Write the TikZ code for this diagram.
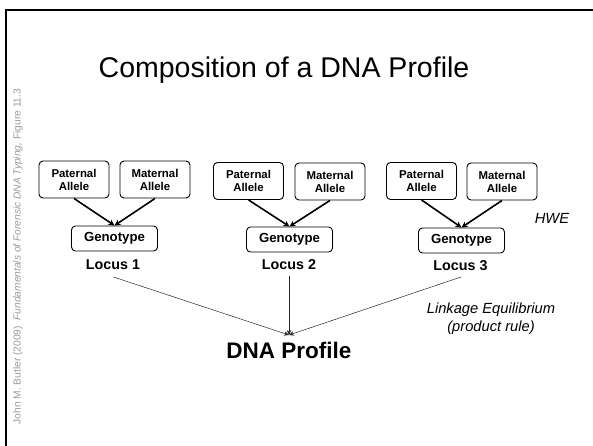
\documentclass[tikz,border=0pt]{standalone}
\usepackage{fontspec}
\setmainfont{Liberation Sans}
\usetikzlibrary{arrows.meta}
\definecolor{credit}{HTML}{9A9A9A}
\begin{document}
\begin{tikzpicture}[x=1pt,y=-1pt,
  allele/.style={draw,rounded corners=4pt,line width=0.9pt,minimum width=70pt,
    minimum height=37pt,inner sep=0pt,align=center,
    font=\fontsize{11.4}{13}\selectfont\bfseries},
  geno/.style={draw,rounded corners=4pt,line width=0.9pt,minimum width=86pt,
    minimum height=25pt,inner sep=0pt,font=\fontsize{13.2}{15}\selectfont\bfseries},
  locus/.style={anchor=base,inner sep=0pt,font=\fontsize{14.3}{16}\selectfont\bfseries},
  feed/.style={line width=1.6pt,-{Stealth[length=6pt,width=6pt]}},
  merge/.style={line width=0.5pt,draw=black!85,-{Stealth[length=5pt,width=4.5pt]}},
  note/.style={inner sep=0pt,font=\fontsize{14.7}{18}\selectfont\itshape,align=center}
]
\useasboundingbox (0,0) rectangle (593,446);

% slide frame
\draw[line width=2.5pt] (6,446) -- (6,10) -- (593,10);

% title
\node[anchor=base,inner sep=0pt,font=\fontsize{28.5}{32}\selectfont] (title) at (284,78)
  {Composition of a DNA Profile};

% vertical credit line
\node[rotate=90,inner sep=0pt,text=credit,font=\fontsize{10.2}{12}\selectfont] (credit) at (18,256.5)
  {John M. Butler (2009)\ \ \textit{Fundamentals of Forensic DNA Typing,} Figure 11.3};

% locus 1
\node[allele] (p1) at (74,179.5) {Paternal\\Allele};
\node[allele] (m1) at (155,179.5) {Maternal\\Allele};
\node[geno] (g1) at (114.5,238.5) {Genotype};
\node[locus] (l1) at (113,269) {Locus 1};

% locus 2
\node[allele] (p2) at (248.5,181) {Paternal\\Allele};
\node[allele] (m2) at (330,181.5) {Maternal\\Allele};
\node[geno] (g2) at (289.5,239.5) {Genotype};
\node[locus] (l2) at (289,269) {Locus 2};

% locus 3
\node[allele] (p3) at (421.5,181) {Paternal\\Allele};
\node[allele] (m3) at (502,181.5) {Maternal\\Allele};
\node[geno] (g3) at (461.5,240.5) {Genotype};
\node[locus] (l3) at (460.5,270) {Locus 3};

% alleles combine into genotypes
\foreach \i in {1,2,3} {
  \draw[feed] (p\i.south) -- (g\i.north);
  \draw[feed] (m\i.south) -- (g\i.north);
}

% side notes
\node[note] (hwe) at (552,218) {HWE};
\node[note] (link) at (491,319) {Linkage Equilibrium\\(product rule)};

% profile
\node[anchor=base,inner sep=0pt,font=\fontsize{22.5}{26}\selectfont\bfseries] (dna) at (289,358)
  {DNA Profile};
\coordinate (s1) at (113.5,277);
\coordinate (s2) at (289,276);
\coordinate (s3) at (461,277);
\coordinate (tip) at (289,335);
\draw[merge] (s1) -- (tip);
\draw[merge] (s2) -- (tip);
\draw[merge] (s3) -- (tip);
\end{tikzpicture}
\end{document}
